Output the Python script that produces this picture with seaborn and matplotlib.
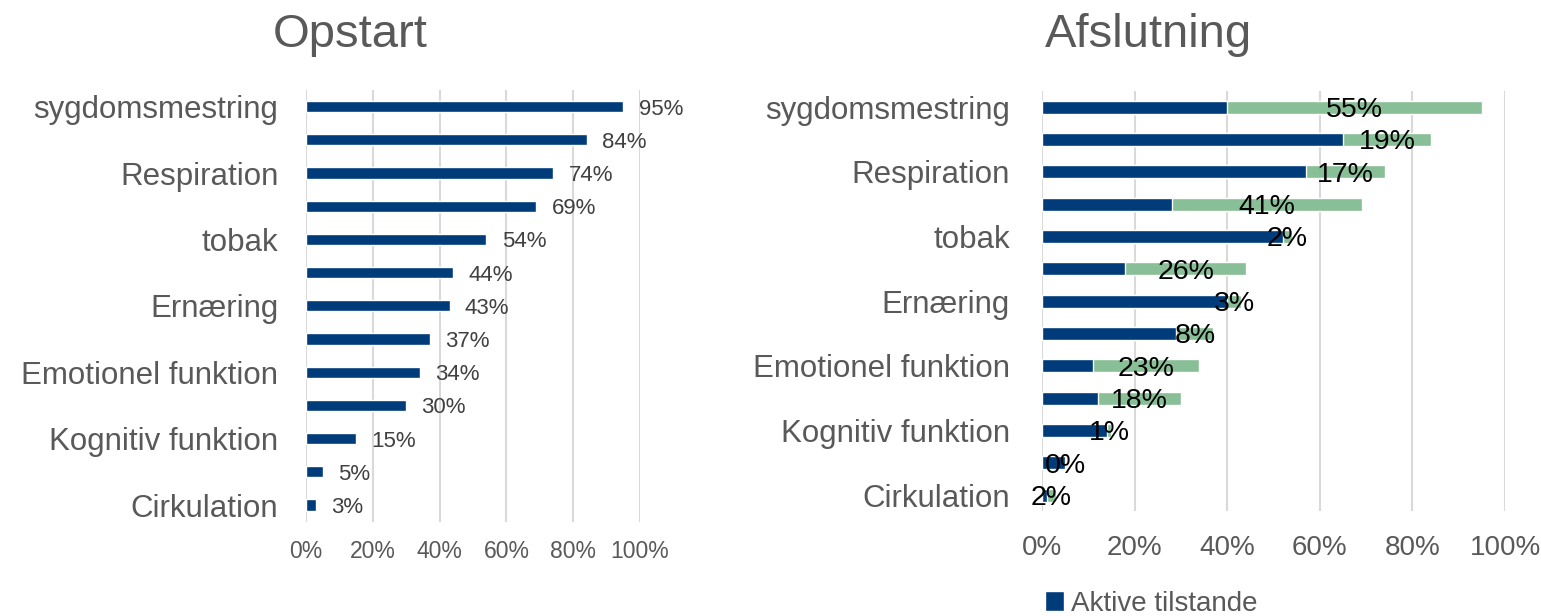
import numpy as np
import pandas as pd
import seaborn as sns
from matplotlib import pyplot as plt

# Data (procent)

tilstande = ['sygdomsmestring', '', 'Respiration', '', 'tobak', '',
             'Ernæring', '', 'Emotionel funktion', '', 'Kognitiv funktion',
             '', 'Cirkulation']
opstart = [95, 84, 74, 69, 54, 44, 43, 37, 34, 30, 15, 5, 3]
aktive = [40, 65, 57, 28, 52, 18, 40, 29, 11, 12, 14, 5, 1]
loeste = [55, 19, 17, 41, 2, 26, 3, 8, 23, 18, 1, 0, 2]
x_ticks = [0, 20, 40, 60, 80, 100]

colors = {'blaa': '#003b7a', 'groen': '#88bf97',
          'tekst': '#595959', 'grid': '#d9d9d9'}

sns.set_theme(style='white')
plt.rcParams['font.family'] = ['Liberation Sans', 'DejaVu Sans']

df = pd.DataFrame({'rk': [str(i) for i in range(len(tilstande))],
                   'opstart': opstart,
                   'aktive': aktive,
                   'loeste': loeste})
df['total'] = df['aktive'] + df['loeste']

fig = plt.figure(figsize=(15.41, 6.16), dpi=100)
ax1 = fig.add_axes([0.1986, 0.1532, 0.2167, 0.7006])
ax2 = fig.add_axes([0.6762, 0.1701, 0.3005, 0.6823])

# Opstart

sns.barplot(data=df, y='rk', x='opstart', orient='h', color=colors['blaa'],
            width=0.34, saturation=1, ax=ax1)
txts = ax1.bar_label(ax1.containers[0], labels=[f'{v}%' for v in opstart],
                     padding=11, color='#404040', fontsize=16)
for t in txts:
    t.set_verticalalignment('center_baseline')

# Afslutning

sns.barplot(data=df, y='rk', x='total', orient='h', color=colors['groen'],
            width=0.4, saturation=1, ax=ax2)
sns.barplot(data=df, y='rk', x='aktive', orient='h', color=colors['blaa'],
            width=0.4, saturation=1, ax=ax2, label='Aktive tilstande')
for i, (a, l) in enumerate(zip(aktive, loeste)):
    ax2.text(a + l / 2, i, f'{l}%', ha='center', va='center_baseline',
             fontsize=20.5, color='black')

handles, labels = ax2.get_legend_handles_labels()
if ax2.get_legend() is not None:
    ax2.get_legend().remove()

for ax, tsize, ypad, xpad in [(ax1, 16.5, 20, 13), (ax2, 20, 23, 17)]:
    ax.set_xlim(0, 100)
    ax.set_xticks(x_ticks, [f'{t}%' for t in x_ticks])
    ax.set_yticks(range(len(tilstande)), tilstande)
    ax.set_xlabel('')
    ax.set_ylabel('')
    ax.grid(axis='x', color=colors['grid'], linewidth=1.5)
    ax.set_axisbelow(True)
    sns.despine(ax=ax, left=True, bottom=True)
    ax.tick_params(axis='y', length=0, pad=ypad, labelsize=22.5,
                   labelcolor=colors['tekst'])
    ax.tick_params(axis='x', length=0, pad=xpad, labelsize=tsize,
                   labelcolor=colors['tekst'])

fig.text(0.227, 0.943, 'Opstart', ha='center', va='center',
         fontsize=34, color=colors['tekst'])
fig.text(0.745, 0.943, 'Afslutning', ha='center', va='center',
         fontsize=34, color=colors['tekst'])

fig.legend(handles[-1:], labels[-1:], loc='center', bbox_to_anchor=(0.747, 0.02),
           frameon=False, fontsize=20, handlelength=0.7, handleheight=0.7,
           handletextpad=0.25, labelcolor=colors['tekst'])

fig.savefig('out.png', dpi=100)
